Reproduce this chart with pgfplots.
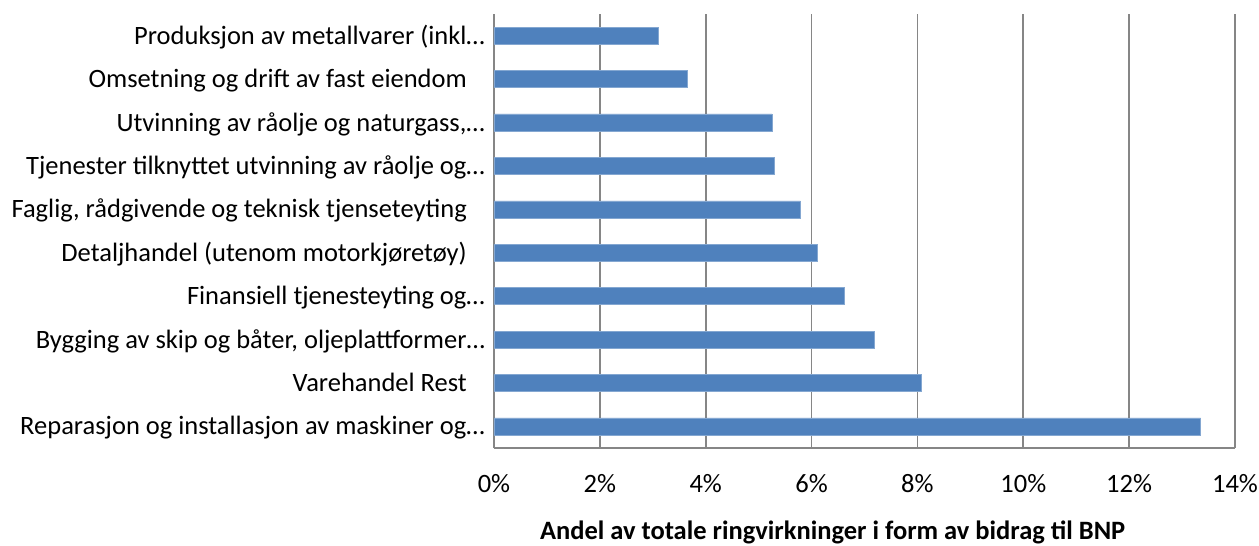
\documentclass[border=0pt]{standalone}
\usepackage{pgfplots}
\pgfplotsset{compat=1.18}
\usepackage{fontspec}
\setmainfont{Carlito}
\definecolor{barblue}{HTML}{4F81BD}
\definecolor{gridgray}{HTML}{868686}
\newcommand{\tsp}{\rule{18bp}{0pt}}
\begin{document}
\begin{tikzpicture}[font=\fontsize{26.5bp}{32bp}\selectfont]
\path[use as bounding box] (-494bp,-98bp) rectangle (765bp,448bp);
\begin{axis}[
  at={(0,0)}, anchor=south west,
  scale only axis,
  width=741bp, height=434bp,
  xbar, bar width=17bp,
  xmin=0, xmax=14,
  ymin=-0.5, ymax=9.5,
  xtick={0,2,4,6,8,10,12,14},
  xticklabels={0\%,2\%,4\%,6\%,8\%,10\%,12\%,14\%},
  ytick={0,1,2,3,4,5,6,7,8,9},
  yticklabels={
    Reparasjon og installasjon av maskiner og…,
    Varehandel Rest\tsp,
    {Bygging av skip og båter, oljeplattformer…},
    Finansiell tjenesteyting og…,
    Detaljhandel (utenom motorkjøretøy)\tsp,
    {Faglig, rådgivende og teknisk tjenseteyting\tsp},
    Tjenester tilknyttet utvinning av råolje og…,
    {Utvinning av råolje og naturgass,…},
    Omsetning og drift av fast eiendom\tsp,
    Produksjon av metallvarer (inkl…
  },
  major tick length=0pt,
  xmajorgrids,
  grid style={draw=gridgray, line width=1.6bp},
  axis x line=bottom, axis y line=left,
  axis line style={-, draw=gridgray, line width=1.6bp},
  xticklabel style={anchor=base, inner sep=0pt, yshift=-44.5bp},
  yticklabel style={anchor=base east, inner sep=0pt, xshift=-9bp, yshift=-8.5bp},
  xlabel={\bfseries Andel av totale ringvirkninger i form av bidrag til BNP},
  xlabel style={at={(axis description cs:0.457,0)}, anchor=base, inner sep=0pt, yshift=-91bp},
]
\addplot[fill=barblue, draw=barblue!70!white, line width=0.5bp] coordinates {
  (13.35,0) (8.08,1) (7.19,2) (6.62,3) (6.10,4)
  (5.79,5) (5.29,6) (5.25,7) (3.65,8) (3.11,9)
};
\end{axis}
\end{tikzpicture}
\end{document}
